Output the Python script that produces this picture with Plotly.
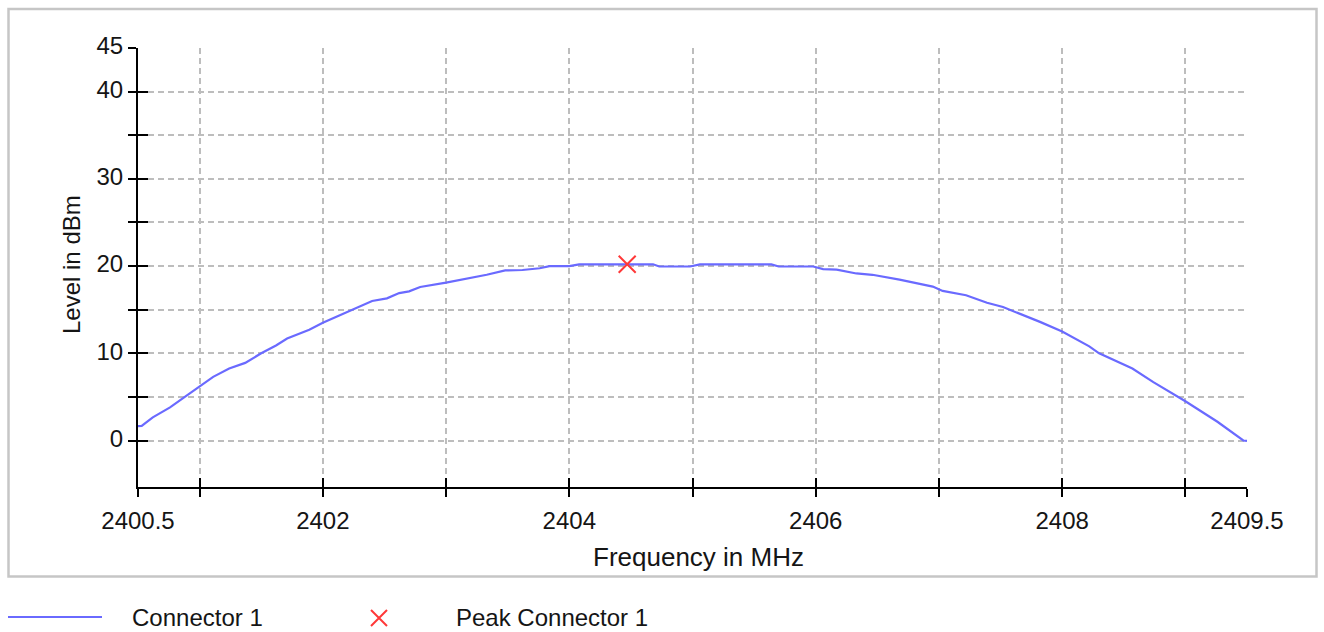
import plotly.graph_objects as go

# ---------------- data ----------------
freq_mhz = [2400.50, 2400.53, 2400.62, 2400.76, 2400.88, 2401.00, 2401.11, 2401.24,
            2401.37, 2401.50, 2401.62, 2401.71, 2401.89, 2402.00, 2402.14, 2402.24,
            2402.40, 2402.52, 2402.62, 2402.70, 2402.79, 2403.00, 2403.19, 2403.33,
            2403.48, 2403.62, 2403.76, 2403.84, 2404.00, 2404.08, 2404.68, 2404.73,
            2404.98, 2405.06, 2405.64, 2405.70, 2405.98, 2406.06, 2406.17, 2406.33,
            2406.46, 2406.68, 2406.95, 2407.03, 2407.22, 2407.39, 2407.52, 2407.68,
            2407.82, 2408.00, 2408.22, 2408.30, 2408.57, 2408.74, 2409.00, 2409.26,
            2409.47, 2409.50]
level_dbm = [1.65, 1.67, 2.65, 3.8, 5.0, 6.2, 7.3, 8.25,
             8.9, 10.0, 10.9, 11.7, 12.7, 13.5, 14.4, 15.0,
             16.0, 16.3, 16.9, 17.1, 17.6, 18.1, 18.6, 19.0,
             19.5, 19.55, 19.75, 20.0, 20.0, 20.2, 20.2, 19.95,
             19.95, 20.2, 20.2, 19.95, 19.95, 19.65, 19.6, 19.15,
             19.0, 18.45, 17.65, 17.15, 16.65, 15.8, 15.3, 14.4,
             13.6, 12.5, 10.8, 10.0, 8.25, 6.7, 4.5, 2.15,
             0.0, -0.05]
peak_freq = [2404.47]
peak_level = [20.2]

x_tick_vals = [2400.5, 2401, 2402, 2403, 2404, 2405, 2406, 2407, 2408, 2409, 2409.5]
x_tick_text = ["2400.5", "", "2402", "", "2404", "", "2406", "", "2408", "", "2409.5"]
y_tick_vals = [0, 5, 10, 15, 20, 25, 30, 35, 40, 45]
y_tick_text = ["0", "", "10", "", "20", "", "30", "", "40", "45"]

series_name = "Connector 1"
peak_name = "Peak Connector 1"
x_title = "Frequency in MHz"
y_title = "Level in dBm"

# ---------------- style ----------------
W, H = 1324, 632
ML, MR, MT, MB = 138, 77, 48, 145
LINE_COLOR = "#6a6aff"
PEAK_COLOR = "#ff3838"
GRID_COLOR = "#bdbdbd"
TEXT_COLOR = "#151515"
FONT = "Liberation Sans, Arial, sans-serif"
X_RANGE = [2400.5, 2409.5]
Y_RANGE = [-5.33, 45.0]


def px_x(px):
    return (px - ML) / (W - ML - MR)


def px_y(py):
    return (H - MB - py) / (H - MT - MB)


fig = go.Figure()

fig.add_trace(go.Scatter(
    x=freq_mhz, y=level_dbm, mode="lines", name=series_name,
    line=dict(color=LINE_COLOR, width=2.2), showlegend=False,
))
fig.add_trace(go.Scatter(
    x=peak_freq, y=peak_level, mode="markers", name=peak_name,
    marker=dict(symbol="x-thin", size=17, line=dict(color=PEAK_COLOR, width=2)),
    showlegend=False,
))
# invisible trace on overlay axes, used only to draw the inner half of the crossing ticks
fig.add_trace(go.Scatter(
    x=freq_mhz, y=level_dbm, xaxis="x2", yaxis="y2", mode="lines",
    line=dict(width=0), opacity=0, hoverinfo="skip", showlegend=False,
))

axis_common = dict(
    showline=True, linecolor="black", linewidth=2,
    ticks="outside", ticklen=8, tickwidth=2, tickcolor="black",
    showgrid=True, gridcolor=GRID_COLOR, gridwidth=1.5, griddash="6px,4px",
    zeroline=False, tickfont=dict(family=FONT, size=24, color=TEXT_COLOR),
    tickmode="array",
)

fig.update_layout(
    width=W, height=H,
    margin=dict(l=ML, r=MR, t=MT, b=MB, pad=0),
    paper_bgcolor="white", plot_bgcolor="white",
    showlegend=False,
    xaxis=dict(range=X_RANGE, tickvals=x_tick_vals, ticktext=x_tick_text,
               ticklabelstandoff=3, **axis_common),
    yaxis=dict(range=Y_RANGE, tickvals=y_tick_vals, ticktext=y_tick_text,
               ticklabelstandoff=0, ticklabelshift=-2, **axis_common),
    xaxis2=dict(range=X_RANGE, overlaying="x", anchor="y2", side="bottom",
                tickmode="array", tickvals=x_tick_vals, showticklabels=False,
                ticks="inside", ticklen=9, tickwidth=2, tickcolor="black",
                showgrid=False, showline=False, zeroline=False),
    yaxis2=dict(range=Y_RANGE, overlaying="y", anchor="x2", side="left",
                tickmode="array", tickvals=y_tick_vals, showticklabels=False,
                ticks="inside", ticklen=10, tickwidth=2, tickcolor="black",
                showgrid=False, showline=False, zeroline=False),
    shapes=[
        # outer frame
        dict(type="rect", xref="paper", yref="paper",
             x0=px_x(8.5), x1=px_x(1316.5), y0=px_y(576.5), y1=px_y(9),
             line=dict(color="#c6c6c6", width=2.5), layer="below"),
        # legend line sample
        dict(type="line", xref="paper", yref="paper",
             x0=px_x(8), x1=px_x(102), y0=px_y(617), y1=px_y(617),
             line=dict(color=LINE_COLOR, width=2)),
        # legend peak cross
        dict(type="path", xref="paper", yref="paper",
             xsizemode="pixel", ysizemode="pixel",
             xanchor=px_x(379), yanchor=px_y(618),
             path="M-8,-8L8,8M-8,8L8,-8",
             line=dict(color=PEAK_COLOR, width=2)),
    ],
    annotations=[
        dict(text=x_title, xref="paper", yref="paper", x=px_x(698), y=px_y(557),
             xanchor="center", yanchor="middle", showarrow=False,
             font=dict(family=FONT, size=26, color=TEXT_COLOR)),
        dict(text=y_title, xref="paper", yref="paper", x=px_x(71), y=px_y(265),
             xanchor="center", yanchor="middle", showarrow=False, textangle=-90,
             font=dict(family=FONT, size=24, color=TEXT_COLOR)),
        dict(text=series_name, xref="paper", yref="paper", x=px_x(131), y=px_y(617.5),
             xanchor="left", yanchor="middle", showarrow=False, borderpad=0,
             font=dict(family=FONT, size=24, color=TEXT_COLOR)),
        dict(text=peak_name, xref="paper", yref="paper", x=px_x(455), y=px_y(617.5),
             xanchor="left", yanchor="middle", showarrow=False, borderpad=0,
             font=dict(family=FONT, size=24, color=TEXT_COLOR)),
    ],
)

fig.write_html("out.html")
